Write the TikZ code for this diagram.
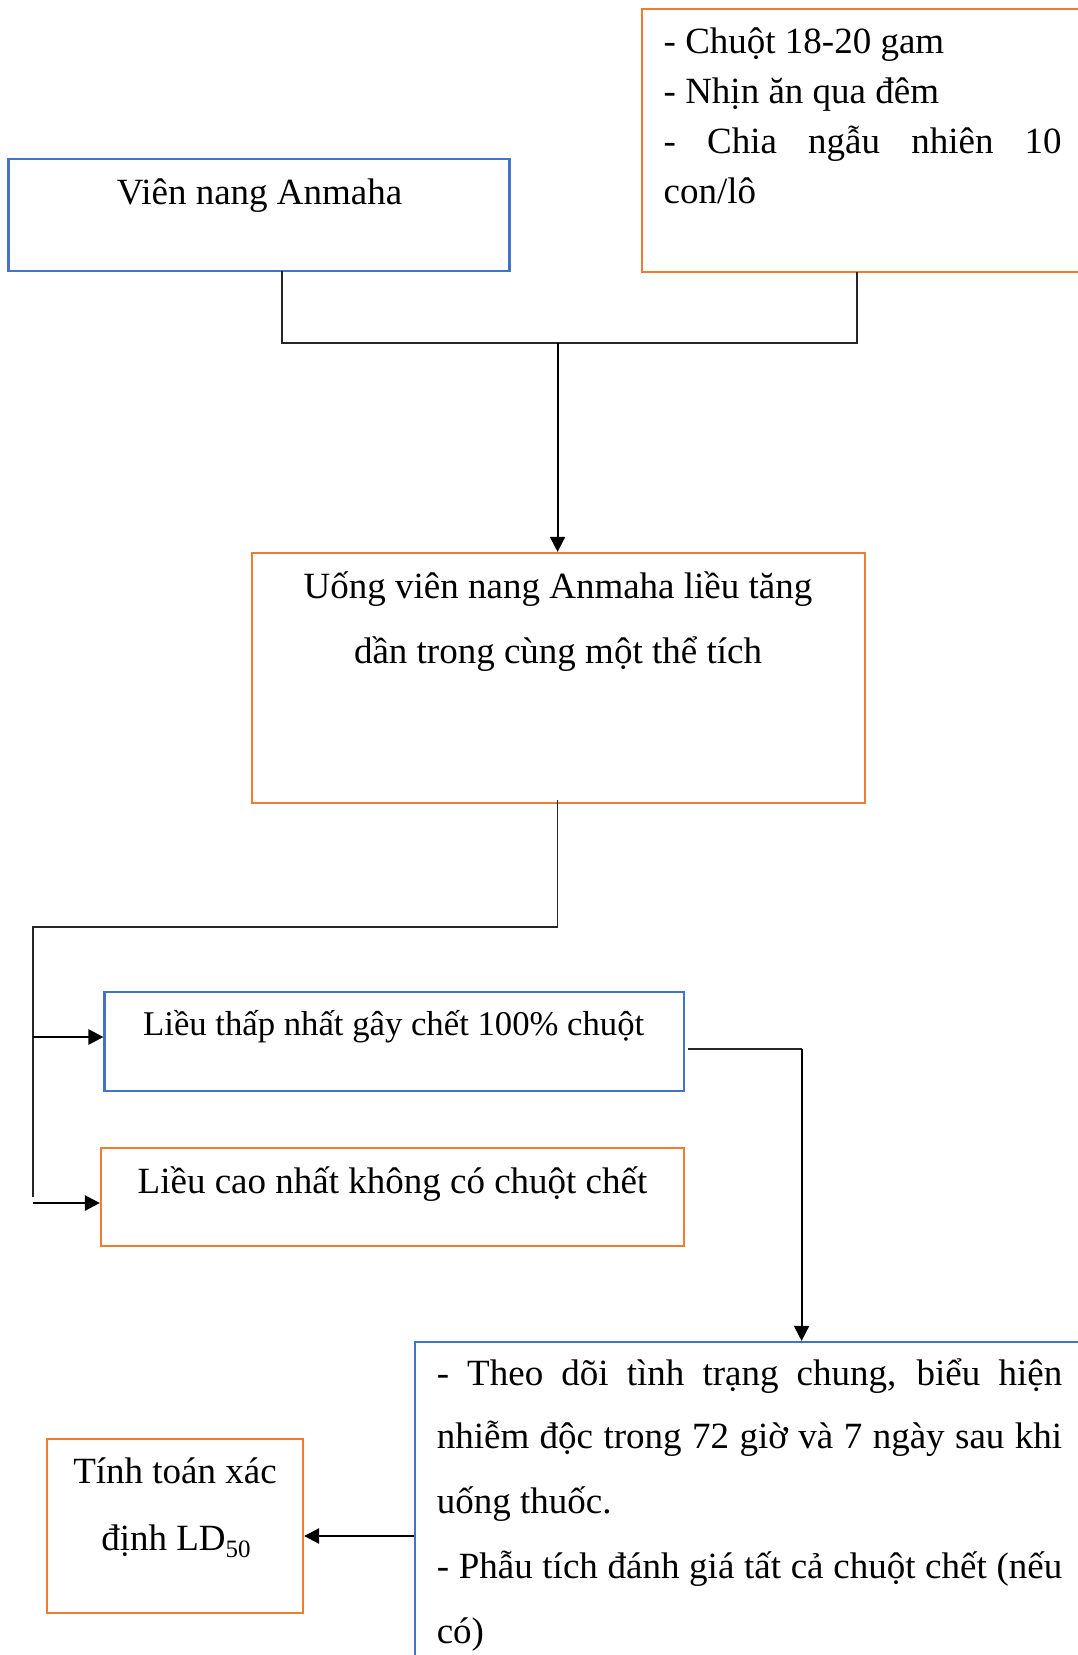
\documentclass[tikz,border=0pt]{standalone}
\usepackage{fontspec}
\setmainfont{Liberation Serif}
\usetikzlibrary{arrows.meta}
\definecolor{boxblue}{HTML}{4472C4}
\definecolor{boxorange}{HTML}{ED7D31}
\begin{document}
\begin{tikzpicture}[x=1pt,y=-1pt,
  bluebox/.style={draw=boxblue,line width=2.2pt,rectangle,inner sep=0pt},
  orangebox/.style={draw=boxorange,line width=2.2pt,rectangle,inner sep=0pt},
  txt/.style={inner sep=0pt,font=\fontsize{37}{44}\selectfont},
  smalltxt/.style={inner sep=0pt,font=\fontsize{34.7}{42}\selectfont},
  conn/.style={draw=black!85,line width=1.6pt},
  arr/.style={draw=black,line width=1.8pt,-{Triangle[length=15pt,width=15pt]}},
  thickarr/.style={draw=black,line width=2.6pt,-{Triangle[length=15pt,width=15pt]}}
]
\useasboundingbox (0,0) rectangle (1078,1655);
\clip (0,0) rectangle (1078,1655);
\fill[white] (0,0) rectangle (1078,1655);

% boxes
\node[bluebox,minimum width=501pt,minimum height=111.7pt] (A) at (259,215) {};
\node[orangebox,minimum width=458pt,minimum height=262.4pt] (B) at (871,140.5) {};
\node[orangebox,minimum width=613pt,minimum height=250pt] (C) at (558.5,678) {};
\node[bluebox,minimum width=579.5pt,minimum height=99pt] (D) at (394.3,1041.5) {};
\node[orangebox,minimum width=583pt,minimum height=98pt] (E) at (392.5,1197) {};
\node[bluebox,minimum width=685pt,minimum height=358pt] (F) at (757.5,1521) {};
\node[orangebox,minimum width=256pt,minimum height=174pt] (G) at (175,1526) {};

% texts
\node[txt,anchor=base] (tA) at (259.6,204) {Viên nang Anmaha};

\node[txt,anchor=base west] (tB1) at (663.5,53) {- Chuột 18-20 gam};
\node[txt,anchor=base west] (tB2) at (663.5,103) {- Nhịn ăn qua đêm};
\node[txt,anchor=base west] (tB3) at (663.5,153) {\makebox[398pt][s]{- Chia ngẫu nhiên 10}};
\node[txt,anchor=base west] (tB4) at (663.5,203.5) {con/lô};

\node[txt,anchor=base] (tC1) at (558,598.5) {Uống viên nang Anmaha liều tăng};
\node[txt,anchor=base] (tC2) at (558,663.5) {dần trong cùng một thể tích};

\node[smalltxt,anchor=base] (tD) at (393.7,1035.5) {Liều thấp nhất gây chết 100\% chuột};
\node[txt,anchor=base] (tE) at (392.5,1193.5) {Liều cao nhất không có chuột chết};

\node[txt,anchor=base west] (tF1) at (436.6,1385.5) {\makebox[625.4pt][s]{- Theo dõi tình trạng chung, biểu hiện}};
\node[txt,anchor=base west] (tF2) at (436.6,1448.5) {\makebox[625.4pt][s]{nhiễm độc trong 72 giờ và 7 ngày sau khi}};
\node[txt,anchor=base west] (tF3) at (436.6,1513.5) {uống thuốc.};
\node[txt,anchor=base west] (tF4) at (436.6,1578.5) {\makebox[625.4pt][s]{- Phẫu tích đánh giá tất cả chuột chết (nếu}};
\node[txt,anchor=base west] (tF5) at (436.6,1643.5) {có)};

\node[txt,anchor=base] (tG1) at (175,1483.5) {Tính toán xác};
\node[txt,anchor=base] (tG2) at (176,1550.5) {định LD\raisebox{-0.2em}{\fontsize{25}{25}\selectfont 50}};

% connectors
\coordinate (aOut) at (282,271);
\coordinate (bOut) at (857,272);
\coordinate (j1) at (557.6,343);
\coordinate (cOut) at (557.6,800);
\coordinate (j2) at (33,927);
\coordinate (dOut) at (687.5,1049);
\coordinate (fTurn) at (801.6,1049);
\coordinate (fIn) at (801.6,1342);

\draw[conn] (aOut) |- (j1) -| (bOut);
\draw[arr] (j1) -- (C.north -| j1);
\draw[conn] (cOut) |- (j2) -- (j2 |- E.west);
\draw[thickarr] (j2 |- 0,1037) -- (D.west |- 0,1037);
\draw[thickarr] (j2 |- 0,1203) -- (E.west |- 0,1203);
\draw[conn] (dOut) -- (fTurn);
\draw[arr] (fTurn) -- (F.north -| fIn);
\draw[thickarr] (F.west |- 0,1536) -- (G.east |- 0,1536);
\end{tikzpicture}
\end{document}
